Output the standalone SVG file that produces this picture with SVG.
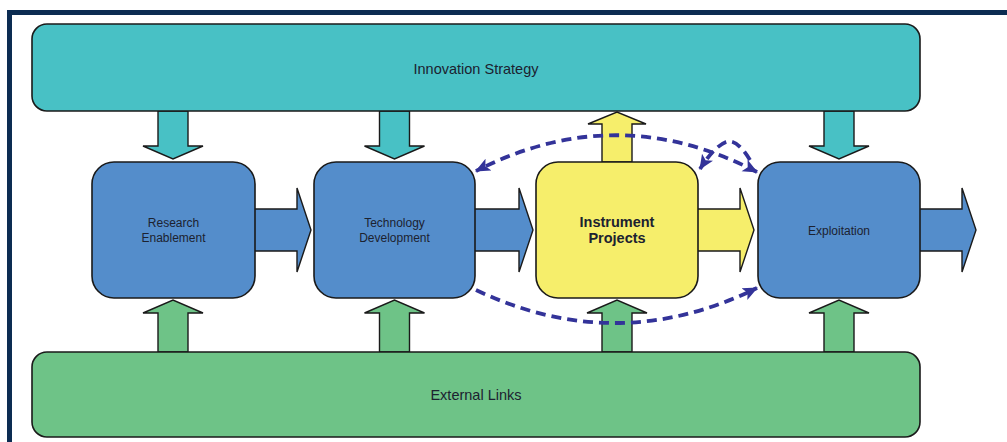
<svg xmlns="http://www.w3.org/2000/svg" width="1007" height="442" viewBox="0 0 1007 442">
  <style>
    .box { stroke: #1a1a1a; stroke-width: 1.6; }
    .arr { stroke: #1a1a1a; stroke-width: 1.4; stroke-linejoin: miter; }
    .teal { fill: #48c1c5; }
    .blue { fill: #548dcb; }
    .yellow { fill: #f6ee6b; }
    .green { fill: #6ec387; }
    .lbl { font-family: "Liberation Sans", Arial, sans-serif; fill: #1c2230; text-anchor: middle; }
    .dash { fill: none; stroke: #333399; stroke-width: 3.8; stroke-dasharray: 10 6; }
  </style>
  <defs>
    <marker id="ah" markerUnits="userSpaceOnUse" markerWidth="16" markerHeight="16" viewBox="0 0 16 16" refX="14" refY="8" orient="auto-start-reverse">
      <path d="M0,1.5 L15,8 L0,14.5 L3.5,8 Z" fill="#333399"/>
    </marker>
  </defs>
  <rect x="0" y="0" width="1007" height="442" fill="#ffffff"/>
  <rect x="9.5" y="12.5" width="1010" height="440" fill="none" stroke="#0c2c52" stroke-width="5"/>

  <g id="arrows">
    <polygon class="arr teal" points="158,111 188,111 188,146 203,146 173,159 143,146 158,146"/>
    <polygon class="arr teal" points="379.5,111 409.5,111 409.5,146 424.5,146 394.5,159 364.5,146 379.5,146"/>
    <polygon class="arr teal" points="824,111 854,111 854,146 869,146 839,159 809,146 824,146"/>
    <polygon class="arr yellow" points="602,162 602,124 588,124 617,112 646,124 632,124 632,162"/>
    <polygon class="arr green" points="158,352 158,313 143,313 173,300 203,313 188,313 188,352"/>
    <polygon class="arr green" points="379.5,352 379.5,313 364.5,313 394.5,300 424.5,313 409.5,313 409.5,352"/>
    <polygon class="arr green" points="602,352 602,313 587,313 617,300 647,313 632,313 632,352"/>
    <polygon class="arr green" points="824,352 824,313 809,313 839,300 869,313 854,313 854,352"/>
    <polygon class="arr blue" points="254,209 297,209 297,188 311,230 297,272 297,251 254,251"/>
    <polygon class="arr blue" points="474,209 519,209 519,188 533,230 519,272 519,251 474,251"/>
    <polygon class="arr yellow" points="697,209 740,209 740,188 754,230 740,272 740,251 697,251"/>
    <polygon class="arr blue" points="919,209 962,209 962,188 976,230 962,272 962,251 919,251"/>
  </g>

  <g id="innovation-strategy">
    <rect class="box teal" x="32" y="24" width="888" height="87" rx="15"/>
    <text class="lbl" x="476" y="74" font-size="14.5">Innovation Strategy</text>
  </g>
  <g id="external-links">
    <rect class="box green" x="32" y="352" width="888" height="85" rx="15"/>
    <text class="lbl" x="476" y="400" font-size="14.5">External Links</text>
  </g>
  <g id="research-enablement">
    <rect class="box blue" x="92" y="162" width="163" height="136" rx="22"/>
    <text class="lbl" x="173.5" y="227" font-size="12">Research</text>
    <text class="lbl" x="173.5" y="242" font-size="12">Enablement</text>
  </g>
  <g id="technology-development">
    <rect class="box blue" x="314" y="162" width="161" height="136" rx="22"/>
    <text class="lbl" x="394.5" y="227" font-size="12">Technology</text>
    <text class="lbl" x="394.5" y="242" font-size="12">Development</text>
  </g>
  <g id="instrument-projects">
    <rect class="box yellow" x="536" y="162" width="162" height="136" rx="22"/>
    <text class="lbl" x="617" y="227" font-size="14.5" font-weight="bold">Instrument</text>
    <text class="lbl" x="617" y="243" font-size="14.5" font-weight="bold">Projects</text>
  </g>
  <g id="exploitation">
    <rect class="box blue" x="758" y="162" width="162" height="136" rx="22"/>
    <text class="lbl" x="839" y="235" font-size="12">Exploitation</text>
  </g>

  <g id="connectors">
    <path class="dash" d="M757,172 Q617,99 476,171" marker-start="url(#ah)" marker-end="url(#ah)"/>
    <path class="dash" d="M750,160 C742,147 734,139 726,142 C716,146 707,158 700,169" marker-end="url(#ah)"/>
    <path class="dash" d="M476,290 Q617,357 757,288" marker-end="url(#ah)"/>
  </g>
</svg>
